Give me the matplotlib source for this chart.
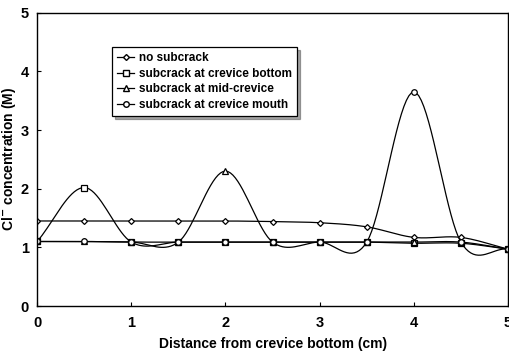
import matplotlib.pyplot as plt
import numpy as np

plt.rcParams['font.family'] = ['Liberation Sans', 'DejaVu Sans']

distance = [0, 0.5, 1, 1.5, 2, 2.5, 3, 3.5, 4, 4.5, 5]
no_subcrack = [1.45, 1.45, 1.45, 1.45, 1.45, 1.44, 1.42, 1.35, 1.17, 1.17, 0.97]
sub_bottom = [1.10, 2.02, 1.09, 1.09, 1.09, 1.09, 1.09, 1.09, 1.07, 1.07, 0.97]
sub_mid = [1.10, 1.10, 1.09, 1.09, 2.30, 1.09, 1.09, 1.09, 1.09, 1.09, 0.97]
sub_mouth = [1.10, 1.10, 1.09, 1.09, 1.09, 1.09, 1.09, 1.09, 3.65, 1.09, 0.97]

series = [
    ('no subcrack', no_subcrack, 'D', 3),
    ('subcrack at crevice bottom', sub_bottom, 's', 4),
    ('subcrack at mid-crevice', sub_mid, '^', 4.5),
    ('subcrack at crevice mouth', sub_mouth, 'o', 4),
]


def smooth(x, y, n=20):
    # excel-like smoothed line (catmull-rom through the points)
    x = np.asarray(x, float)
    y = np.asarray(y, float)
    px = np.concatenate([[2 * x[0] - x[1]], x, [2 * x[-1] - x[-2]]])
    py = np.concatenate([[2 * y[0] - y[1]], y, [2 * y[-1] - y[-2]]])
    xs, ys = [], []
    t = np.linspace(0, 1, n)
    for i in range(1, len(px) - 2):
        for p, out in ((px, xs), (py, ys)):
            p0, p1, p2, p3 = p[i - 1], p[i], p[i + 1], p[i + 2]
            out.extend(0.5 * (2 * p1 + (-p0 + p2) * t
                              + (2 * p0 - 5 * p1 + 4 * p2 - p3) * t ** 2
                              + (-p0 + 3 * p1 - 3 * p2 + p3) * t ** 3))
    return xs, ys


fig = plt.figure(figsize=(5.09, 3.55), dpi=100)
ax = fig.add_axes([0.073, 0.138, 0.925, 0.826])

for label, vals, mk, ms in series:
    sx, sy = smooth(distance, vals)
    ax.plot(sx, sy, color='black', linewidth=0.9)
    ax.plot(distance, vals, linestyle='none', marker=mk, markersize=ms,
            markerfacecolor='white', markeredgecolor='black', markeredgewidth=0.9)
    ax.plot([], [], color='black', linewidth=0.9, marker=mk, markersize=ms,
            markerfacecolor='white', markeredgecolor='black', label=label)

ax.set_xlim(0, 5)
ax.set_ylim(0, 5)
ax.set_xticks([0, 1, 2, 3, 4, 5])
ax.set_yticks([0, 1, 2, 3, 4, 5])
ax.tick_params(direction='in', length=3, width=0.8, labelsize=10.5)
ax.tick_params(axis='x', pad=7)
ax.tick_params(axis='y', pad=6)
for lbl in ax.get_xticklabels() + ax.get_yticklabels():
    lbl.set_fontweight('bold')
for sp in ax.spines.values():
    sp.set_linewidth(1.0)

ax.set_xlabel('Distance from crevice bottom (cm)', fontsize=10, fontweight='bold', labelpad=5)
ax.set_ylabel('Cl$^{\\mathbf{-}}$ concentration (M)', fontsize=10, fontweight='bold', labelpad=2)

leg = ax.legend(loc='upper left', bbox_to_anchor=(0.159, 0.884), borderaxespad=0,
                prop={'weight': 'bold', 'size': 8.5}, frameon=True, fancybox=False,
                shadow=True, handlelength=1.4, handletextpad=0.4,
                borderpad=0.45, labelspacing=0.3)
leg.get_frame().set_edgecolor('black')
leg.get_frame().set_linewidth(0.9)

plt.savefig('out.png', dpi=100)
